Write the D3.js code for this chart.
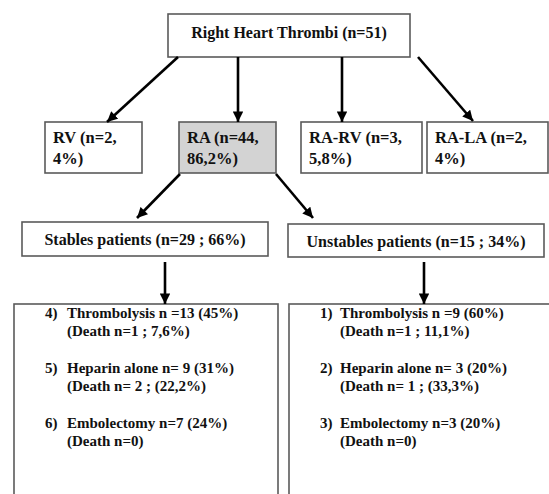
<!DOCTYPE html>
<html>
<head>
<meta charset="utf-8">
<title>Right Heart Thrombi</title>
<script src="https://d3js.org/d3.v7.min.js"></script>
<style>
  body { margin: 0; background: #fff; }
</style>
</head>
<body>
<div id="chart"></div>
<script>
// node labels (one entry per box, each line of text)
var rootLabel = ["Right Heart Thrombi (n=51)"];
var siteLabels = [
  ["RV (n=2,", "4%)"],
  ["RA (n=44,", "86,2%)"],
  ["RA-RV (n=3,", "5,8%)"],
  ["RA-LA (n=2,", "4%)"]
];
var groupLabels = ["Stables patients (n=29 ; 66%)", "Unstables patients (n=15 ; 34%)"];
var stableNums = ["4)", "5)", "6)"];
var stableLines = [
  ["Thrombolysis n =13 (45%)", "(Death n=1 ; 7,6%)"],
  ["Heparin alone n= 9 (31%)", "(Death n= 2 ; (22,2%)"],
  ["Embolectomy n=7 (24%)", "(Death n=0)"]
];
var unstableNums = ["1)", "2)", "3)"];
var unstableLines = [
  ["Thrombolysis n =9 (60%)", "(Death n=1 ; 11,1%)"],
  ["Heparin alone n= 3 (20%)", "(Death n= 1 ; (33,3%)"],
  ["Embolectomy n=3 (20%)", "(Death n=0)"]
];

var width = 549, height = 494;
var serif = "'Liberation Serif', 'Times New Roman', Times, 'DejaVu Serif', serif";
var svg = d3.select("#chart").append("svg")
    .attr("width", width).attr("height", height)
    .attr("font-family", serif)
    .attr("font-weight", "bold");

svg.append("defs").append("marker")
    .attr("id", "head")
    .attr("viewBox", "0 0 10 10")
    .attr("refX", 10).attr("refY", 5)
    .attr("markerWidth", 4.2).attr("markerHeight", 4)
    .attr("markerUnits", "strokeWidth")
    .attr("orient", "auto")
  .append("path")
    .attr("d", "M0,0 L10,5 L0,10 Z")
    .attr("fill", "#000");

// box layout
var boxStroke = "#5a5a5a";
function box(x, y, w, h, fill) {
  svg.append("rect")
    .attr("x", x).attr("y", y).attr("width", w).attr("height", h)
    .attr("fill", fill || "#fff")
    .attr("stroke", boxStroke).attr("stroke-width", 1.6);
}
function label(x, y, s, size, anchor) {
  return svg.append("text").attr("x", x).attr("y", y)
    .attr("text-anchor", anchor || "start")
    .attr("font-family", serif).attr("font-weight", "bold")
    .attr("font-size", size).attr("fill", "#111")
    .text(s);
}

// root
box(168, 14, 242, 43);
label(289, 38, rootLabel[0], 16, "middle");

// sites
var siteBoxes = [
  {x: 45, w: 97, fill: "#fff"},
  {x: 179, w: 97, fill: "#d3d3d3"},
  {x: 301, w: 121, fill: "#fff"},
  {x: 427, w: 121, fill: "#fff"}
];
siteLabels.forEach(function (lines, i) {
  var b = siteBoxes[i];
  box(b.x, 122, b.w, 51, b.fill);
  lines.forEach(function (s, j) {
    label(b.x + 8, 143 + j * 21, s, 16.5);
  });
});

// stable / unstable groups
var groupBoxes = [{x: 22, y: 222, w: 246, h: 34}, {x: 288, y: 224, w: 256, h: 33}];
groupLabels.forEach(function (s, i) {
  var b = groupBoxes[i];
  box(b.x, b.y, b.w, b.h);
  label(b.x + b.w / 2, b.y + b.h / 2 + 6, s, 16, "middle");
});

// treatment boxes (run off the bottom of the picture)
box(14, 304, 264, 220);
box(289, 304, 280, 220);

function treatments(nums, lines, xNum, xText) {
  lines.forEach(function (pair, i) {
    var y0 = 318 + i * 55;
    label(xNum, y0, nums[i], 15);
    pair.forEach(function (s, j) {
      label(xText, y0 + j * 18, s, 15);
    });
  });
}
treatments(stableNums, stableLines, 45, 67);
treatments(unstableNums, unstableLines, 320, 340);

// arrows
var arrows = [
  [178, 57, 107, 122],
  [238, 57, 238, 122],
  [342, 57, 342, 122],
  [418, 57, 473, 121],
  [180, 174, 137, 218],
  [276, 174, 313, 218],
  [165, 262, 165, 304],
  [424, 262, 424, 304]
];
svg.selectAll(".arrow").data(arrows).enter().append("line")
    .attr("class", "arrow")
    .attr("x1", function (d) { return d[0]; })
    .attr("y1", function (d) { return d[1]; })
    .attr("x2", function (d) { return d[2]; })
    .attr("y2", function (d) { return d[3]; })
    .attr("stroke", "#000").attr("stroke-width", 2.6)
    .attr("marker-end", "url(#head)");
</script>
</body>
</html>
